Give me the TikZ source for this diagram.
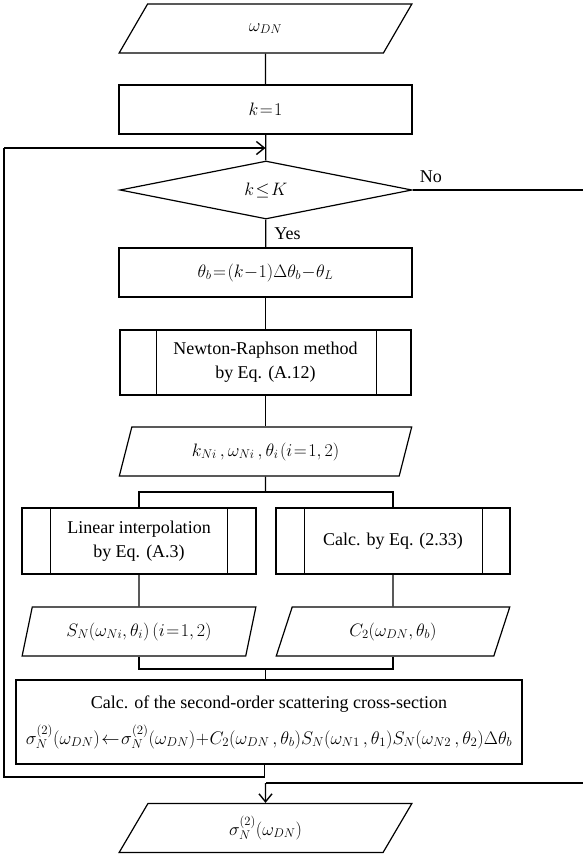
\RequirePackage{fix-cm}
\documentclass[tikz,border=0pt]{standalone}
\usepackage{fontspec}
\setmainfont{Liberation Serif}
\usetikzlibrary{shapes.geometric,arrows.meta}
\thickmuskip=1.5mu
\medmuskip=0.5mu
\begin{document}
\begin{tikzpicture}[x=1pt,y=-1pt,
  every node/.style={font=\fontsize{18}{24}\selectfont, inner sep=0pt, align=center},
  mth/.style={font=\fontsize{18}{24}\selectfont},
  line/.style={line width=1.2pt},
  proc/.style={draw, line width=1.2pt, rectangle, minimum width=293, minimum height=49},
  subr/.style={draw, line width=1.2pt, rectangle, minimum width=234, minimum height=66},
  io/.style={draw, line width=1.2pt, trapezium, trapezium left angle=69, trapezium right angle=111,
             trapezium stretches=true, minimum width=293, minimum height=49, mth},
  dec/.style={draw, line width=1.2pt, diamond, minimum width=292, minimum height=48, mth},
  arr/.style={line width=1.2pt, -{Straight Barb[length=8pt,width=13pt,line width=1.4pt]}},
  lbl/.style={font=\fontsize{18}{22}\selectfont}
]
\useasboundingbox (0,0) rectangle (583,854);

\node[io] (in) at (265.5,28.5) {$\omega_{DN}$};
\node[proc, mth] (k1) at (265.5,109.5) {$k=1$};
\node[dec] (dec) at (266,190) {$k\le K$};
\node[proc, mth] (th) at (265.5,272.5) {$\theta_b=(k-1)\Delta\theta_b-\theta_L$};
\node[subr, minimum width=291, minimum height=65] (nr) at (265.5,362.5) {Newton-Raphson method\\by Eq. (A.12)};
\node[io] (kn) at (265.5,451.5) {$k_{Ni}\,,\omega_{Ni}\,,\theta_i\;(i=1,2)$};
\node[subr] (lin) at (139,541) {Linear interpolation\\by Eq. (A.3)};
\node[subr] (cal) at (393,541) {Calc. by Eq. (2.33)};
\node[io, minimum width=234] (sn) at (139,631.5) {$S_N(\omega_{Ni},\theta_i)\,(i=1,2)$};
\node[io, minimum width=234] (c2) at (393,631.5) {$C_2(\omega_{DN},\theta_b)$};
\node[draw, line width=1.2pt, minimum width=506, minimum height=84, font=\fontsize{18}{36}\selectfont] (big) at (269,722)
  {Calc. of the second-order scattering cross-section\\
   \fontsize{18.3}{36}\selectfont$\sigma_N^{(2)}(\omega_{DN})\leftarrow\sigma_N^{(2)}(\omega_{DN})+C_2(\omega_{DN}\,,\theta_b)S_N(\omega_{N1}\,,\theta_1)S_N(\omega_{N2}\,,\theta_2)\Delta\theta_b$};
\node[io] (out) at (265.5,828) {$\sigma_N^{(2)}(\omega_{DN})$};

% inner lines of subroutine boxes
\draw[line] ([xshift=37]nr.north west) -- ([xshift=37]nr.south west)
            ([xshift=-35]nr.north east) -- ([xshift=-35]nr.south east);
\draw[line] ([xshift=29]lin.north west) -- ([xshift=29]lin.south west)
            ([xshift=-29]lin.north east) -- ([xshift=-29]lin.south east);
\draw[line] ([xshift=29]cal.north west) -- ([xshift=29]cal.south west)
            ([xshift=-28]cal.north east) -- ([xshift=-28]cal.south east);

% coordinates
\coordinate (loopin) at (265.5,148);
\coordinate (br) at (265.5,492);
\coordinate (jn) at (265.5,669);
\coordinate (back) at (264.5,777);
\coordinate (left) at (4,777);
\coordinate (ltop) at (4,148);
\coordinate (noR) at (586,190);
\coordinate (noB) at (586,783);
\coordinate (noIn) at (265.5,783);

% main flow
\draw[line] (in) -- (k1);
\draw[line] (k1) -- (dec);
\draw[line] (dec) -- node[lbl, right=8pt, pos=0.5] {Yes} (th);
\draw[line] (th) -- (nr);
\draw[line] (nr) -- (kn);
\draw[line] (kn) -- (br);
\draw[line] (br) -| (lin.north);
\draw[line] (br) -| (cal.north);
\draw[line] (lin) -- (sn);
\draw[line] (cal) -- (c2);
\draw[line] (sn.south) |- (jn);
\draw[line] (c2.south) |- (jn);
\draw[line] (jn) -- (jn |- big.north);

% loop back
\draw[line] (back |- big.south) -- (back) -- (left) -- (ltop);
\draw[arr] (ltop) -- (loopin);

% No branch
\draw[line] (dec.east) -- node[lbl, above=7pt, pos=0.105] {No} (noR) -- (noB) -- (noIn);
\draw[arr] (noIn) -- (out.north);
\end{tikzpicture}
\end{document}
